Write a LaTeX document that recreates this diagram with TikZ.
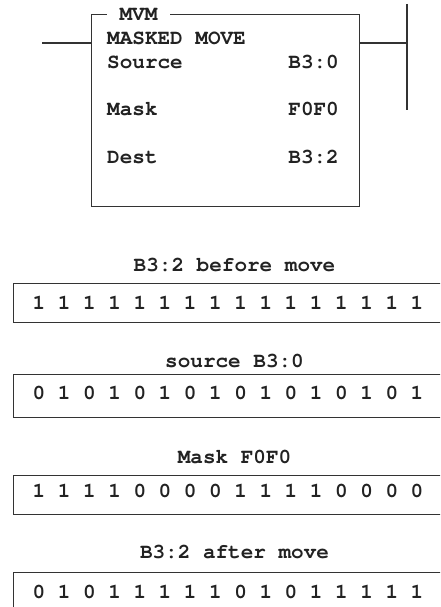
\documentclass[tikz,border=0pt]{standalone}
\usepackage{fontspec}
\newfontfamily\courfont[Extension=.otf]{texgyrecursor-bold}
\definecolor{ink}{HTML}{222222}
\definecolor{wire}{HTML}{333333}
\begin{document}
\begin{tikzpicture}[x=1pt,y=-1pt,
  txt/.style={inner sep=0pt, text=ink, font=\fontsize{21}{24}\courfont},
  frame/.style={draw=wire, line width=1.1pt, inner sep=0pt},
  wireline/.style={draw=wire, line width=1.1pt}]
\useasboundingbox (0,0) rectangle (440,607);
\clip (0,0) rectangle (440,607);
% MVM instruction box
\node[frame, anchor=north west, minimum width=268.6pt, minimum height=192pt] (mvm) at (90.7,14) {};
\coordinate (lin) at (42,43);
\coordinate (railtop) at (407,4);
\coordinate (railbot) at (407,110);
\draw[wireline] (lin) -- (lin -| mvm.west);
\draw[wireline] (mvm.east |- lin) -- (railtop |- lin);
\draw[wireline] (railtop) -- (railbot);
\node[txt, fill=white, inner xsep=12.6pt, inner ysep=1pt] (title) at (138.5,14) {MVM};
\node[txt, anchor=base west] (mm) at (107,45) {MASKED MOVE};
\node[txt, anchor=base west] (src) at (107,69) {Source};
\node[txt, anchor=base east] (srcv) at (339,69) {B3:0};
\node[txt, anchor=base west] (msk) at (107,116) {Mask};
\node[txt, anchor=base east] (mskv) at (339,116) {F0F0};
\node[txt, anchor=base west] (dst) at (107,163) {Dest};
\node[txt, anchor=base east] (dstv) at (339,163) {B3:2};
% bit tables
\node[txt, anchor=base] (l1) at (234.5,271.5) {B3:2 before move};
\node[frame, anchor=north west, minimum width=440pt, minimum height=38.5pt] (b1) at (13.3,283) {};
\node[txt, anchor=base] (t1) at (228,309.5) {1 1 1 1 1 1 1 1 1 1 1 1 1 1 1 1};
\node[txt, anchor=base] (l2) at (234.5,367) {source B3:0};
\node[frame, anchor=north west, minimum width=440pt, minimum height=43pt] (b2) at (13.3,374) {};
\node[txt, anchor=base] (t2) at (228,399) {0 1 0 1 0 1 0 1 0 1 0 1 0 1 0 1};
\node[txt, anchor=base] (l3) at (234.5,463.5) {Mask F0F0};
\node[frame, anchor=north west, minimum width=440pt, minimum height=39pt] (b3) at (13.3,475) {};
\node[txt, anchor=base] (t3) at (228,497) {1 1 1 1 0 0 0 0 1 1 1 1 0 0 0 0};
\node[txt, anchor=base] (l4) at (234.5,558.5) {B3:2 after move};
\node[frame, anchor=north west, minimum width=440pt, minimum height=60pt] (b4) at (13.3,572) {};
\node[txt, anchor=base] (t4) at (228,598.5) {0 1 0 1 1 1 1 1 0 1 0 1 1 1 1 1};
\end{tikzpicture}
\end{document}
